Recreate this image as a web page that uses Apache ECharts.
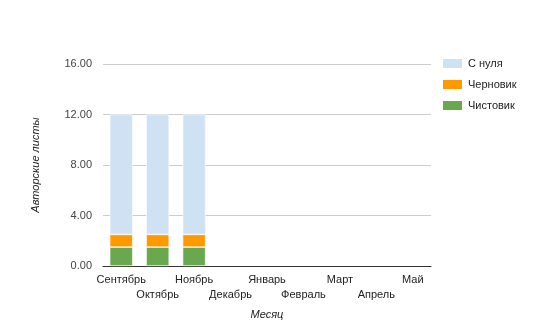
<!DOCTYPE html>
<html><head><meta charset="utf-8">
<script src="https://cdn.jsdelivr.net/npm/echarts@6/dist/echarts.min.js"></script>
<style>html,body{margin:0;padding:0;background:#fff}#c{width:534px;height:330px}</style>
</head><body><div id="c"></div>
<script>
const months = ['Сентябрь','Октябрь','Ноябрь','Декабрь','Январь','Февраль','Март','Апрель','Май'];
const clean = [1.5, 1.5, 1.5, 0, 0, 0, 0, 0, 0];      // Чистовик
const draft = [1.0, 1.0, 1.0, 0, 0, 0, 0, 0, 0];      // Черновик
const scratch = [9.5, 9.5, 9.5, 0, 0, 0, 0, 0, 0];    // С нуля
const yTicks = [0, 4, 8, 12, 16];

const font = 'Liberation Sans, Arial, sans-serif';
const chart = echarts.init(document.getElementById('c'), null, {renderer: 'canvas'});
const toData = arr => arr.map(v => v === 0 ? '-' : v);
chart.setOption({
  animation: false,
  textStyle: {fontFamily: font},
  grid: {left: 103, right: 103, top: 64, bottom: 64},
  legend: {
    orient: 'vertical', left: 436, top: 52,
    itemWidth: 21, itemHeight: 11, itemGap: 8,
    icon: 'rect',
    data: ['С нуля', 'Черновик', 'Чистовик'],
    textStyle: {fontSize: 11, color: '#222', fontFamily: font}
  },
  xAxis: {
    type: 'category', data: months,
    name: 'Месяц', nameLocation: 'middle', nameGap: 43,
    nameTextStyle: {fontStyle: 'italic', fontSize: 11, color: '#222', fontFamily: font},
    axisLine: {lineStyle: {color: '#333', width: 1}},
    axisTick: {show: false},
    axisLabel: {
      interval: 0, fontSize: 11, color: '#222', lineHeight: 15, margin: 6,
      formatter: (v, i) => (i % 2 === 1 ? '\n' + v : v)
    }
  },
  yAxis: {
    type: 'value', min: yTicks[0], max: yTicks[yTicks.length - 1], interval: 4,
    name: 'Авторские листы', nameLocation: 'middle', nameGap: 62, nameRotate: 90,
    nameTextStyle: {fontStyle: 'italic', fontSize: 11, color: '#222', fontFamily: font},
    axisLine: {show: false}, axisTick: {show: false},
    axisLabel: {fontSize: 11, color: '#444', margin: 11, formatter: v => v.toFixed(2)},
    splitLine: {lineStyle: {color: '#ccc'}}
  },
  series: [
    {name: 'Чистовик', type: 'bar', stack: 's', data: toData(clean), barWidth: 23, itemStyle: {color: '#6aa84f', borderColor: '#fff', borderWidth: 0.6}},
    {name: 'Черновик', type: 'bar', stack: 's', data: toData(draft), barWidth: 23, itemStyle: {color: '#ff9900', borderColor: '#fff', borderWidth: 0.6}},
    {name: 'С нуля', type: 'bar', stack: 's', data: toData(scratch), barWidth: 23, itemStyle: {color: '#cfe2f3', borderColor: '#fff', borderWidth: 0.6}}
  ]
});
</script></body></html>
